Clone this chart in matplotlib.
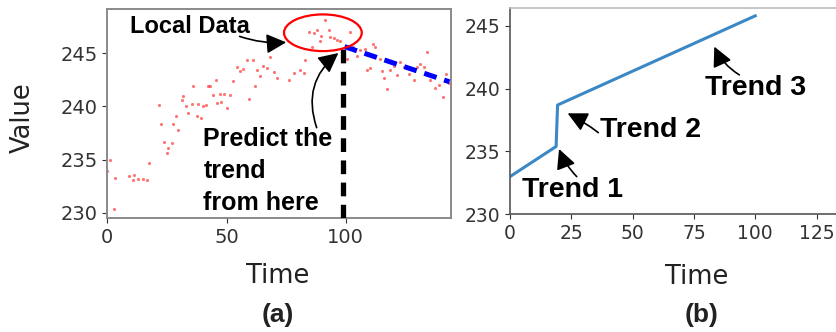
import matplotlib
matplotlib.use("Agg")
import matplotlib.pyplot as plt
from matplotlib.patches import Ellipse

# ---------------- data ----------------
obs_time = [0, 1.1, 2.6, 3.2, 9.2, 10.6, 11.2, 13.0, 14.8, 16.5, 17.6,
            21.8, 22.7, 23.8, 24.9, 25.6, 27.0, 27.7, 28.8, 29.8, 31.2, 31.6,
            33.0, 34.0, 35.4, 36.1, 37.5, 38.2, 39.3, 40.3, 41.4, 42.4, 43.1,
            44.2, 45.6, 46.2, 47.3, 47.6, 49.0, 50.4, 51.5, 52.9, 54.3, 55.7,
            57.1, 58.5, 59.6, 61.3, 62.0, 62.7, 64.1, 65.5, 66.9, 68.3, 69.7,
            71.1, 76.4, 78.1, 80.9, 82.3, 83.0, 84.4, 85.8, 86.5, 87.9, 89.0,
            89.6, 91.4, 92.8, 93.5, 94.9, 96.3, 97.7, 100.5, 101.6, 103.0,
            104.7, 105.8, 108.2, 108.9, 110.0, 111.4, 112.4, 114.5, 115.2,
            115.9, 117.3, 118.7, 120.1, 121.5, 122.9, 124.3, 126.4, 128.5,
            129.9, 131.3, 132.7, 134.1, 135.5, 137.6, 139.0, 140.9, 141.9, 143.3]
obs_value = [233.9, 235.0, 230.4, 233.3, 233.5, 233.1, 233.6, 233.2, 233.2, 233.1, 234.7,
             240.1, 238.3, 236.7, 235.6, 236.1, 236.6, 238.3, 239.1, 237.8, 240.6, 241.0,
             240.0, 239.4, 240.2, 241.9, 239.1, 240.2, 238.9, 240.0, 240.1, 241.9, 241.9,
             241.1, 242.5, 240.3, 241.2, 240.4, 241.2, 239.8, 241.1, 242.4, 243.7, 243.3,
             243.5, 244.3, 240.7, 244.3, 241.9, 243.4, 242.8, 243.8, 243.6, 244.6, 243.2,
             242.7, 242.5, 243.1, 243.4, 243.1, 244.3, 247.0, 245.6, 246.9, 247.2, 246.1,
             246.6, 248.1, 247.2, 246.5, 246.4, 246.2, 246.1, 244.4, 247.0, 245.6,
             244.7, 245.3, 245.4, 243.4, 243.6, 245.8, 245.6, 244.4, 243.3,
             242.7, 241.6, 243.4, 243.8, 242.9, 244.2, 243.7, 243.0, 242.5,
             243.7, 244.0, 243.7, 245.1, 242.5, 241.7, 242.0, 240.9, 243.0, 242.2]

pred_time = [99.5, 143.5]
pred_value = [245.6, 242.3]

split_time = 99.0
split_value_top = 245.6

trend_time = [0, 18.8, 19.4, 100]
trend_value = [233.0, 235.4, 238.7, 245.8]

left_xticks = [0, 50, 100]
left_yticks = [230, 235, 240, 245]
right_xticks = [0, 25, 50, 75, 100, 125]
right_yticks = [230, 235, 240, 245]

# ---------------- figure ----------------
W, H = 837, 332
fig = plt.figure(figsize=(W / 100, H / 100), dpi=100)

def px_rect(x0, y0, x1, y1):
    return [x0 / W, 1 - y1 / H, (x1 - x0) / W, (y1 - y0) / H]

tick_color = "#333333"
bold_font = dict(family="Liberation Sans", weight="bold", color="black")

# ----- panel (a) -----
ax1 = fig.add_axes(px_rect(107.3, 9.3, 450.7, 218.3))
ax1.scatter(obs_time, obs_value, s=5, color="red", alpha=0.55, linewidths=0, zorder=2)
ax1.plot([split_time, split_time], [229.5, split_value_top], color="black", lw=3.8,
         dashes=(2.6, 1.6), zorder=3, solid_capstyle="butt")
ax1.plot(pred_time, pred_value, color="blue", lw=3.6, dashes=(2.6, 1.6), zorder=3)
ax1.add_patch(Ellipse((90.4, 246.9), 32.6, 3.44, fill=False, ec="red", lw=1.6, zorder=4))
ax1.set_xlim(0, 144)
ax1.set_ylim(229.5, 249.1)
ax1.set_xticks(left_xticks)
ax1.set_yticks(left_yticks)
ax1.tick_params(labelsize=14, colors=tick_color, length=3.5)
for s in ax1.spines.values():
    s.set_color("#8a8a8a")
    s.set_linewidth(1.4)

arrow_kw = dict(arrowstyle="-|>,head_length=1.2,head_width=0.6", color="black", lw=1.2,
                shrinkA=0, shrinkB=0)
ax1.text(9.5, 246.87, "Local Data", fontsize=17, ha="left", va="baseline", **bold_font)
ax1.annotate("", xy=(75.0, 246.0), xytext=(55.5, 246.56),
             arrowprops=dict(connectionstyle="arc3,rad=0.1", **arrow_kw))
ax1.text(40.3, 230.3, "Predict the\ntrend\nfrom here", fontsize=18, ha="left",
         va="baseline", linespacing=1.42, **bold_font)
ax1.annotate("", xy=(96.9, 245.0), xytext=(87.8, 238.0),
             arrowprops=dict(connectionstyle="arc3,rad=-0.35", **arrow_kw))

# ----- panel (b) -----
ax2 = fig.add_axes(px_rect(510, 8.3, 884, 214.3))
ax2.plot(trend_time, trend_value, color="#3a88c5", lw=2.2)
ax2.set_xlim(0, 152.5)
ax2.set_ylim(230, 246.4)
ax2.set_xticks(right_xticks)
ax2.set_yticks(right_yticks)
ax2.tick_params(labelsize=13.5, colors=tick_color, length=3.5)
ax2.spines["left"].set_color("#555555")
ax2.spines["bottom"].set_color("#555555")
ax2.spines["top"].set_color("#bbbbbb")
ax2.spines["right"].set_visible(False)
for s in ax2.spines.values():
    s.set_linewidth(1.2)

ax2.text(25.5, 231.4, "Trend 1", fontsize=20.5, ha="center", va="baseline", **bold_font)
ax2.annotate("", xy=(20.0, 235.2), xytext=(27.2, 233.0),
             arrowprops=dict(connectionstyle="arc3,rad=-0.1", **arrow_kw))
ax2.text(57.4, 236.13, "Trend 2", fontsize=20.5, ha="center", va="baseline", **bold_font)
ax2.annotate("", xy=(23.5, 238.04), xytext=(36.0, 236.5),
             arrowprops=dict(connectionstyle="arc3,rad=0.05", **arrow_kw))
ax2.text(100.2, 239.5, "Trend 3", fontsize=20.5, ha="center", va="baseline", **bold_font)
ax2.annotate("", xy=(83.3, 243.35), xytext=(93.5, 241.1),
             arrowprops=dict(connectionstyle="arc3,rad=-0.15", **arrow_kw))

# ----- labels -----
label_color = "#222222"
fig.text(23 / W, 1 - 117.5 / H, "Value", rotation=90, fontsize=18.5, ha="center", va="center",
         color=label_color)
fig.text(278 / W, 1 - 276 / H, "Time", fontsize=18.5, ha="center", va="center", color=label_color)
fig.text(697 / W, 1 - 277 / H, "Time", fontsize=18.5, ha="center", va="center", color=label_color)
fig.text(278 / W, 1 - 315 / H, "(a)", fontsize=19, ha="center", va="center",
         family="Liberation Sans", weight="bold", color=label_color)
fig.text(702 / W, 1 - 315 / H, "(b)", fontsize=19, ha="center", va="center",
         family="Liberation Sans", weight="bold", color=label_color)

fig.savefig("out.png", dpi=100)
